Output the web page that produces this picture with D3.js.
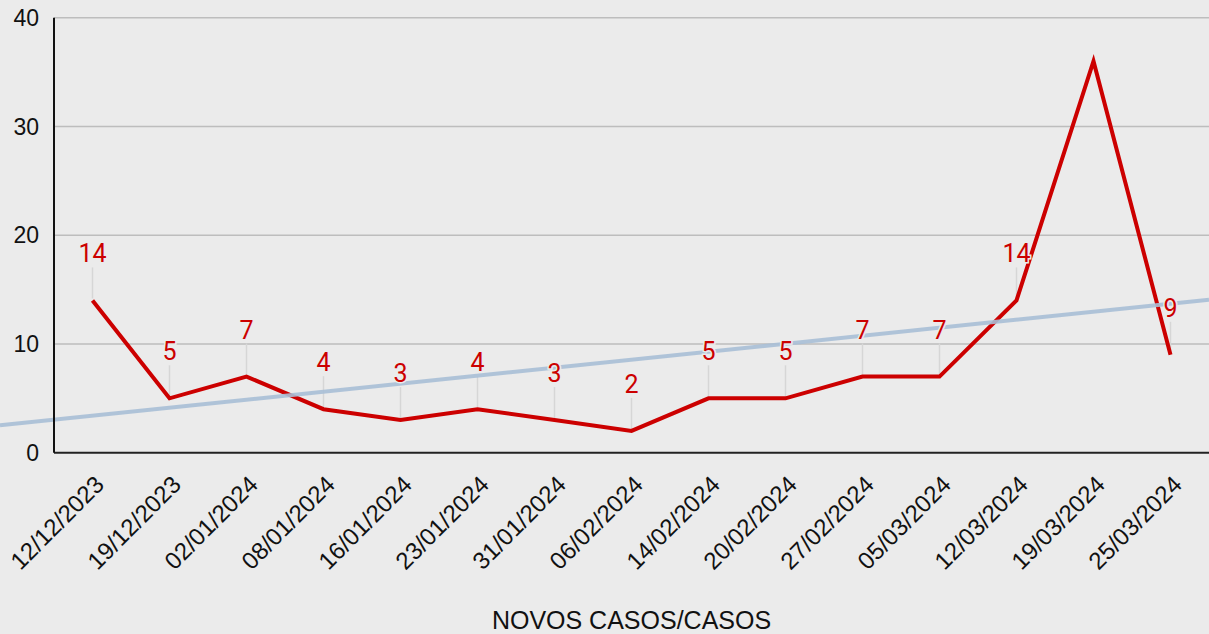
<!DOCTYPE html>
<html>
<head>
<meta charset="utf-8">
<script src="https://cdn.jsdelivr.net/npm/d3@7"></script>
<style>
  html, body { margin: 0; padding: 0; background: #ebebeb; }
  svg { display: block; }
  .tick-y { font-family: "Liberation Sans", Arial, sans-serif; font-size: 23px; fill: #111; }
  .tick-x { font-family: "Liberation Sans", Arial, sans-serif; font-size: 24px; fill: #111; }
  .axis-title { font-family: "Liberation Sans", Arial, sans-serif; font-size: 25px; fill: #111; }
  .pt-label { font-family: Roboto, "Noto Sans", sans-serif; font-size: 25px; fill: #cc0000; }
</style>
</head>
<body>
<div id="chart"></div>
<script>
// data
var dates = ['12/12/2023','19/12/2023','02/01/2024','08/01/2024','16/01/2024','23/01/2024','31/01/2024',
  '06/02/2024','14/02/2024','20/02/2024','27/02/2024','05/03/2024','12/03/2024','19/03/2024','25/03/2024'];
var cases = [14, 5, 7, 4, 3, 4, 3, 2, 5, 5, 7, 7, 14, 36, 9];
var hiddenLabels = ['19/03/2024'];
var yTicks = [0, 10, 20, 30, 40];
// trend line values at first and last date
var trendEnds = [3.4, 13.7];
var axisTitle = 'NOVOS CASOS/CASOS';

var width = 1209, height = 634;
var plotLeft = 54, plotRight = 1209, plotTop = 17.7, plotBottom = 452.7;

var svg = d3.select('#chart').append('svg')
  .attr('width', width)
  .attr('height', height);

svg.append('rect').attr('width', width).attr('height', height).attr('fill', '#ebebeb');

var x = d3.scalePoint()
  .domain(dates)
  .range([plotLeft, plotRight])
  .padding(0.5);

var y = d3.scaleLinear()
  .domain([0, 40])
  .range([plotBottom, plotTop]);

// gridlines
svg.append('g').selectAll('line')
  .data(yTicks.filter(d => d > 0))
  .enter().append('line')
  .attr('x1', plotLeft).attr('x2', plotRight)
  .attr('y1', d => y(d)).attr('y2', d => y(d))
  .attr('stroke', '#bdbdbd')
  .attr('stroke-width', 1.6);

// y tick labels
svg.append('g').selectAll('text')
  .data(yTicks)
  .enter().append('text')
  .attr('class', 'tick-y')
  .attr('x', 39)
  .attr('y', d => y(d))
  .attr('dy', '0.35em')
  .attr('text-anchor', 'end')
  .text(d => d);

// x tick labels
svg.append('g').selectAll('text')
  .data(dates)
  .enter().append('text')
  .attr('class', 'tick-x')
  .attr('text-anchor', 'end')
  .attr('dy', '0.35em')
  .attr('transform', d => 'translate(' + (x(d) + 7) + ',' + 480 + ') rotate(-45)')
  .text(d => d);

svg.append('text')
  .attr('class', 'axis-title')
  .attr('x', (plotLeft + plotRight) / 2)
  .attr('y', 629)
  .attr('text-anchor', 'middle')
  .text(axisTitle);

// leader lines
var labelled = dates.map((d, i) => ({date: d, v: cases[i]})).filter(d => hiddenLabels.indexOf(d.date) < 0);

svg.append('g').selectAll('line')
  .data(labelled)
  .enter().append('line')
  .attr('x1', d => x(d.date)).attr('x2', d => x(d.date))
  .attr('y1', d => y(d.v) - 2).attr('y2', d => y(d.v) - 33)
  .attr('stroke', '#d6d6d6')
  .attr('stroke-width', 1.5);

// main series
var line = d3.line()
  .x((d, i) => x(dates[i]))
  .y(d => y(d));

svg.append('path')
  .datum(cases)
  .attr('d', line)
  .attr('fill', 'none')
  .attr('stroke', '#cc0000')
  .attr('stroke-width', 4)
  .attr('stroke-linejoin', 'miter');

// trend line, extended across the whole width
var x0 = x(dates[0]), x1 = x(dates[dates.length - 1]);
function trendAt(px) {
  return trendEnds[0] + (trendEnds[1] - trendEnds[0]) * (px - x0) / (x1 - x0);
}
svg.append('path')
  .attr('d', d3.line()([[0, y(trendAt(0))], [width, y(trendAt(width))]]))
  .attr('stroke', '#a9bfd6')
  .attr('stroke-opacity', 0.9)
  .attr('stroke-width', 4)
  .attr('fill', 'none');

// axes lines
svg.append('line')
  .attr('x1', plotLeft).attr('x2', plotRight)
  .attr('y1', plotBottom).attr('y2', plotBottom)
  .attr('stroke', '#222').attr('stroke-width', 2);

svg.append('line')
  .attr('x1', plotLeft).attr('x2', plotLeft)
  .attr('y1', plotTop).attr('y2', plotBottom)
  .attr('stroke', '#111').attr('stroke-width', 2);

// point labels with halo
svg.append('g').selectAll('text')
  .data(labelled)
  .enter().append('text')
  .attr('class', 'pt-label')
  .attr('x', d => x(d.date))
  .attr('y', d => y(d.v) - 38)
  .attr('text-anchor', 'middle')
  .attr('stroke', '#ebebeb')
  .attr('stroke-width', 3)
  .attr('paint-order', 'stroke')
  .text(d => d.v);
</script>
</body>
</html>
